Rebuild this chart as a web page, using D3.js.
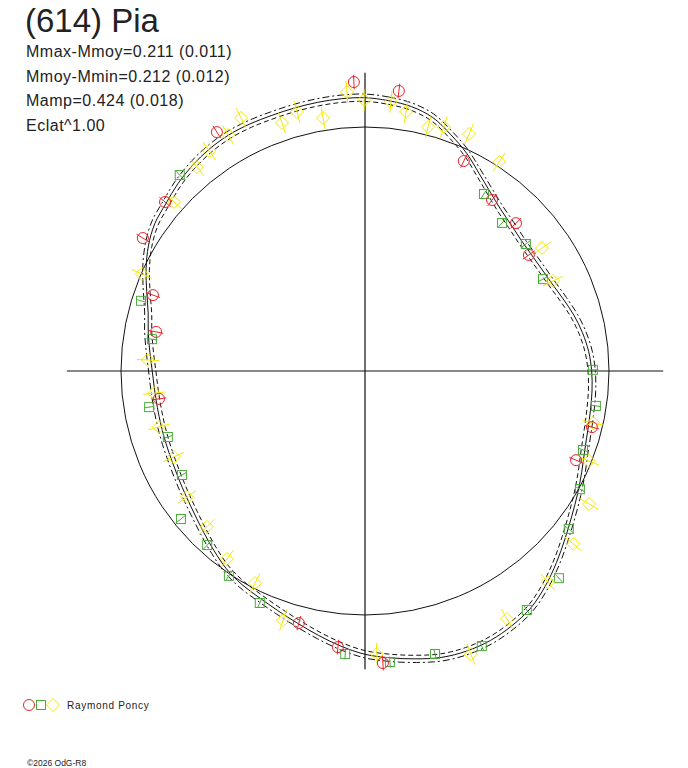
<!DOCTYPE html>
<html>
<head>
<meta charset="UTF-8">
<script src="https://d3js.org/d3.v7.min.js"></script>
<style>
  body { margin: 0; background: #fff; }
  svg { display: block; }
  text { font-family: "Liberation Sans", Arial, sans-serif; fill: #222; }
  .title { font-size: 33px; }
  .stat { font-size: 16px; letter-spacing: 0.5px; }
  .legendLabel { font-size: 10px; letter-spacing: 0.7px; }
  .copyright { font-size: 8.5px; }
</style>
</head>
<body>
<script>
// rotational phase in degrees (0 at top, clockwise), relative brightness (1 = mean)
const modelPhase = [0, 5, 10, 15, 20, 25, 30, 35, 40, 45, 50, 55, 60, 65, 70, 75, 80, 85,
  90, 95, 100, 105, 110, 115, 120, 125, 130, 135, 140, 145, 150, 155, 160, 165, 170, 175,
  180, 185, 190, 195, 200, 205, 210, 215, 220, 225, 230, 235, 240, 245, 250, 255, 260, 265,
  270, 275, 280, 285, 290, 295, 300, 305, 310, 315, 320, 325, 330, 335, 340, 345, 350, 355]
const modelFlux = [1.120, 1.112, 1.100, 1.075, 1.030, 0.985, 0.935, 0.895, 0.865, 0.847, 0.835, 0.832,
  0.836, 0.846, 0.864, 0.886, 0.905, 0.920, 0.929, 0.934, 0.938, 0.945, 0.958, 0.980, 1.006, 1.035,
  1.070, 1.110, 1.150, 1.185, 1.205, 1.218, 1.221, 1.215, 1.198, 1.180, 1.161, 1.132, 1.100, 1.070,
  1.045, 1.025, 1.010, 0.990, 0.962, 0.935, 0.912, 0.895, 0.882, 0.873, 0.868, 0.865, 0.864, 0.866,
  0.872, 0.885, 0.902, 0.920, 0.952, 0.990, 1.025, 1.052, 1.066, 1.085, 1.100, 1.111, 1.117, 1.117,
  1.115, 1.116, 1.118, 1.120]
const modelSigma = 0.015

const redPhase = [6.9, 25.2, 36.6, 45.6, 54.7, 103.9, 112.9, 176.5, 185.6, 194.7, 262.3, 280.6,
  289.7, 300.9, 310.2, 328.2, 357.8]
const redFlux = [1.156, 0.951, 0.873, 0.866, 0.823, 0.958, 0.939, 1.199, 1.137, 1.068, 0.852, 0.871,
  0.923, 1.061, 1.073, 1.152, 1.185]
const redErr = 0.03

const greenPhase = [33.9, 42.8, 51.7, 62.7, 89.7, 98.6, 109.9, 118.8, 127.8, 136.9, 145.9, 157.0,
  166.1, 175.1, 184.0, 204.4, 213.6, 222.2, 231.2, 240.4, 251.5, 260.5, 278.5, 287.4, 316.6]
const greenFlux = [0.874, 0.827, 0.840, 0.821, 0.934, 0.957, 0.950, 1.005, 1.057, 1.163, 1.183, 1.225,
  1.195, 1.197, 1.163, 1.044, 1.008, 0.963, 0.968, 0.863, 0.852, 0.897, 0.883, 0.962, 1.105]
const greenErr = 0.022

const yellowPhase = [5.5, 9.0, 14.5, 17.9, 23.7, 32.7, 55.2, 64.4, 102.8, 111.9, 120.7, 129.7,
  139.1, 150.2, 159.5, 177.6, 198.2, 207.4, 216.3, 225.4, 234.7, 245.8, 254.8, 264.0, 272.9,
  293.5, 311.5, 320.5, 324.7, 329.9, 333.9, 341.5, 345.3, 350.6, 356.3, 359.8]
const yellowFlux = [1.108, 1.075, 1.033, 1.051, 1.061, 1.018, 0.883, 0.854, 0.959, 0.989, 1.068, 1.109,
  1.145, 1.171, 1.239, 1.161, 1.075, 0.979, 0.956, 0.910, 0.894, 0.859, 0.875, 0.869, 0.891,
  0.997, 1.045, 1.083, 1.105, 1.118, 1.155, 1.072, 1.098, 1.051, 1.146, 1.111]
const yellowErr = 0.045

const axisExtent = 1.222
const statLines = ['Mmax-Mmoy=0.211 (0.011)', 'Mmoy-Mmin=0.212 (0.012)', 'Mamp=0.424 (0.018)', 'Eclat^1.00']

const width = 688, height = 768
const cx = 365, cy = 371

const svg = d3.select('body').append('svg')
  .attr('width', width)
  .attr('height', height)

const angle = d3.scaleLinear().domain([0, 360]).range([0, 2 * Math.PI])
const radius = d3.scaleLinear().domain([0, 1]).range([0, 244])

const g = svg.append('g').attr('transform', `translate(${cx},${cy})`)

// axes
g.append('line')
  .attr('x1', -radius(axisExtent)).attr('x2', radius(axisExtent))
  .attr('y1', 0).attr('y2', 0)
  .attr('stroke', '#111').attr('stroke-width', 1.2)
g.append('line')
  .attr('x1', 0).attr('x2', 0)
  .attr('y1', -radius(axisExtent)).attr('y2', radius(axisExtent))
  .attr('stroke', '#111').attr('stroke-width', 1.2)

// mean brightness circle
g.append('circle')
  .attr('r', radius(1))
  .attr('fill', 'none')
  .attr('stroke', '#111')
  .attr('stroke-width', 1)

// model curve and its envelope
const model = d3.zip(modelPhase, modelFlux)
let curveLine = offset => d3.lineRadial()
  .angle(d => angle(d[0]))
  .radius(d => radius(d[1] + offset))
  .curve(d3.curveCatmullRomClosed)

g.append('path')
  .attr('d', curveLine(-modelSigma)(model))
  .attr('fill', 'none').attr('stroke', '#111').attr('stroke-width', 1)
  .attr('stroke-dasharray', '5,3')
g.append('path')
  .attr('d', curveLine(modelSigma)(model))
  .attr('fill', 'none').attr('stroke', '#111').attr('stroke-width', 1)
  .attr('stroke-dasharray', '7,3,2,3')
g.append('path')
  .attr('d', curveLine(0)(model))
  .attr('fill', 'none').attr('stroke', '#111').attr('stroke-width', 1)

// observations
let drawMarker = (sel, shape, color) => {
  if (shape === 'circle') {
    sel.append('circle').attr('r', 5.5)
  } else if (shape === 'square') {
    sel.append('rect').attr('x', -4.5).attr('y', -4.5).attr('width', 9).attr('height', 9)
  } else {
    sel.append('path').attr('d', 'M0,-6.5L6.5,0L0,6.5L-6.5,0Z')
  }
  sel.selectAll('circle, rect, path')
    .attr('fill', 'none')
    .attr('stroke', color)
    .attr('stroke-width', 1)
}

let addSeries = (phases, fluxes, err, shape, color) => {
  let pts = g.append('g').selectAll('g')
    .data(d3.zip(phases, fluxes))
    .enter()
    .append('g')

  pts.append('line')
    .attr('x1', d => d3.pointRadial(angle(d[0]), radius(d[1] - err))[0])
    .attr('y1', d => d3.pointRadial(angle(d[0]), radius(d[1] - err))[1])
    .attr('x2', d => d3.pointRadial(angle(d[0]), radius(d[1] + err))[0])
    .attr('y2', d => d3.pointRadial(angle(d[0]), radius(d[1] + err))[1])
    .attr('stroke', color)
    .attr('stroke-width', 1)

  pts.each(function (d) {
    let p = d3.pointRadial(angle(d[0]), radius(d[1]))
    let m = d3.select(this).append('g').attr('transform', `translate(${p[0]},${p[1]})`)
    drawMarker(m, shape, color)
  })
}

const red = '#e8242c', green = '#4aab3a', yellow = '#f4e800'
addSeries(greenPhase, greenFlux, greenErr, 'square', green)
addSeries(yellowPhase, yellowFlux, yellowErr, 'diamond', yellow)
addSeries(redPhase, redFlux, redErr, 'circle', red)

// texts
svg.append('text').attr('class', 'title').attr('x', 25).attr('y', 32).text('(614) Pia')
svg.selectAll('.stat')
  .data(statLines)
  .enter()
  .append('text')
  .attr('class', 'stat')
  .attr('x', 26)
  .attr('y', (d, i) => 57 + i * 24.5)
  .text(d => d)

// legend
const legend = svg.append('g').attr('transform', 'translate(0,705)')
drawMarker(legend.append('g').attr('transform', 'translate(29,0)'), 'circle', red)
drawMarker(legend.append('g').attr('transform', 'translate(41,0)'), 'square', green)
drawMarker(legend.append('g').attr('transform', 'translate(53,0)'), 'diamond', yellow)
legend.append('text').attr('class', 'legendLabel').attr('x', 67).attr('y', 4).text('Raymond Poncy')

svg.append('text').attr('class', 'copyright').attr('x', 27).attr('y', 766).text('©2026 OdG-R8')
</script>
</body>
</html>
